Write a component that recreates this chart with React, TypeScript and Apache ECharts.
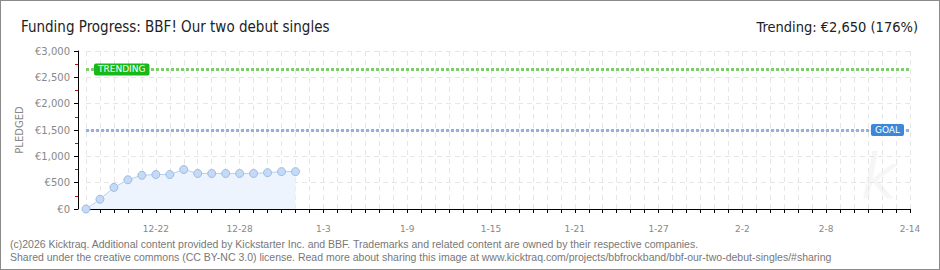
import React, { useEffect, useRef } from "react";
import * as echarts from "echarts";

const dates: string[] = [
  "12-17", "12-18", "12-19", "12-20", "12-21", "12-22", "12-23", "12-24", "12-25", "12-26",
  "12-27", "12-28", "12-29", "12-30", "12-31", "1-1", "1-2", "1-3", "1-4", "1-5",
  "1-6", "1-7", "1-8", "1-9", "1-10", "1-11", "1-12", "1-13", "1-14", "1-15",
  "1-16", "1-17", "1-18", "1-19", "1-20", "1-21", "1-22", "1-23", "1-24", "1-25",
  "1-26", "1-27", "1-28", "1-29", "1-30", "1-31", "2-1", "2-2", "2-3", "2-4",
  "2-5", "2-6", "2-7", "2-8", "2-9", "2-10", "2-11", "2-12", "2-13", "2-14",
];
const labeledDates: string[] = ["12-22", "12-28", "1-3", "1-9", "1-15", "1-21", "1-27", "2-2", "2-8", "2-14"];
const pledged: number[] = [0, 185, 410, 555, 640, 655, 655, 750, 675, 675, 675, 675, 675, 690, 710, 710];
const goal = 1500;
const trending = 2650;
const yTicks = { min: 0, max: 3000, interval: 500 };

const titleText = "Funding Progress: BBF! Our two debut singles";
const footer1 =
  "(c)2026 Kicktraq. Additional content provided by Kickstarter Inc. and BBF. Trademarks and related content are owned by their respective companies.";
const footer2 =
  "Shared under the creative commons (CC BY-NC 3.0) license. Read more about sharing this image at www.kicktraq.com/projects/bbfrockband/bbf-our-two-debut-singles/#sharing";

const euro = (v: number) => "€" + v.toLocaleString("en-US");

export default function App() {
  const ref = useRef<HTMLDivElement>(null);
  useEffect(() => {
    document.body.style.margin = "0";
    if (!ref.current) return;
    const chart = echarts.init(ref.current, undefined, { renderer: "svg" });
    const pct = Math.floor((trending / goal) * 100);
    const labelFont = "DejaVu Sans";
    const titleFont = "DejaVu Sans Condensed, Liberation Sans Narrow, Roboto";
    chart.setOption({
      animation: false,
      backgroundColor: "#ffffff",
      title: [
        {
          text: titleText,
          left: 15,
          top: 13,
          textStyle: { fontFamily: titleFont, fontSize: 15, fontWeight: "normal", color: "#222" },
        },
        {
          text: `Trending: ${euro(trending)} (${pct}%)`,
          right: 16,
          top: 13,
          textStyle: { fontFamily: titleFont, fontSize: 14.5, fontWeight: "normal", color: "#222" },
        },
      ],
      grid: { left: 85, right: 29, top: 50, bottom: 60, containLabel: false },
      xAxis: {
        type: "category",
        data: dates,
        boundaryGap: false,
        offset: 10,
        axisLine: { show: true, lineStyle: { color: "#000", width: 1 } },
        axisTick: { show: true, interval: 0, length: 4, lineStyle: { color: "#000" } },
        axisLabel: {
          interval: (_i: number, v: string) => labeledDates.includes(v),
          color: "#888",
          fontFamily: labelFont,
          fontSize: 9,
          margin: 5,
        },
        splitLine: { show: true, interval: 0, lineStyle: { color: "#e6e6e6", type: [5, 4] } },
      },
      yAxis: {
        type: "value",
        min: yTicks.min,
        max: yTicks.max,
        interval: yTicks.interval,
        offset: 8,
        name: "PLEDGED",
        nameLocation: "middle",
        nameGap: 50,
        nameRotate: 90,
        nameTextStyle: { color: "#888", fontFamily: labelFont, fontSize: 10 },
        axisLine: { show: true, lineStyle: { color: "#000", width: 1 } },
        axisTick: { show: true, length: 4, lineStyle: { color: "#000" } },
        minorTick: { show: true, splitNumber: 2, length: 3, lineStyle: { color: "#e00000" } },
        axisLabel: { formatter: euro, color: "#888", fontFamily: labelFont, fontSize: 10, margin: 8 },
        splitLine: { show: true, lineStyle: { color: "#e6e6e6", type: [5, 4] } },
      },
      series: [
        {
          type: "line",
          data: pledged,
          symbol: "circle",
          symbolSize: 8,
          lineStyle: { color: "#b6d0f1", width: 1 },
          itemStyle: { color: "#c4daf6", borderColor: "#9cbbe3", borderWidth: 1 },
          areaStyle: { color: "#edf4fd", opacity: 1 },
          markLine: {
            silent: true,
            symbol: "none",
            data: [
              {
                yAxis: trending,
                lineStyle: { color: "#7ccf6c", type: [3, 2], width: 3 },
                label: {
                  show: true,
                  position: "insideStartTop",
                  distance: [8, 0],
                  verticalAlign: "middle",
                  formatter: "TRENDING",
                  color: "#fff",
                  backgroundColor: "#17b817",
                  padding: [2, 4, 1, 4],
                  borderRadius: 2,
                  fontFamily: labelFont,
                  fontSize: 9,
                  fontWeight: "normal",
                },
              },
              {
                yAxis: goal,
                lineStyle: { color: "#8fb2df", type: [3, 2], width: 3 },
                label: {
                  show: true,
                  position: "insideEndTop",
                  distance: [6, 0],
                  verticalAlign: "middle",
                  formatter: "GOAL",
                  color: "#fff",
                  backgroundColor: "#3b87d8",
                  padding: [2, 4, 1, 4],
                  borderRadius: 2,
                  fontFamily: labelFont,
                  fontSize: 9,
                  fontWeight: "normal",
                },
              },
            ],
          },
        },
      ],
      graphic: [
        {
          type: "text",
          right: 42,
          top: 144,
          z: -1,
          style: { text: "k", fill: "#f6f6f6", font: "italic 62px DejaVu Sans" },
        },
        {
          type: "text",
          left: 9,
          top: 237,
          style: { text: footer1, fill: "#777", font: "10.5px Liberation Sans" },
        },
        {
          type: "text",
          left: 9,
          top: 250,
          style: { text: footer2, fill: "#777", font: "10.5px Liberation Sans" },
        },
      ],
    });
    return () => chart.dispose();
  }, []);
  return (
    <div
      ref={ref}
      style={{ width: 940, height: 270, boxSizing: "border-box", border: "1px solid #8a8a8a", background: "#fff" }}
    />
  );
}
